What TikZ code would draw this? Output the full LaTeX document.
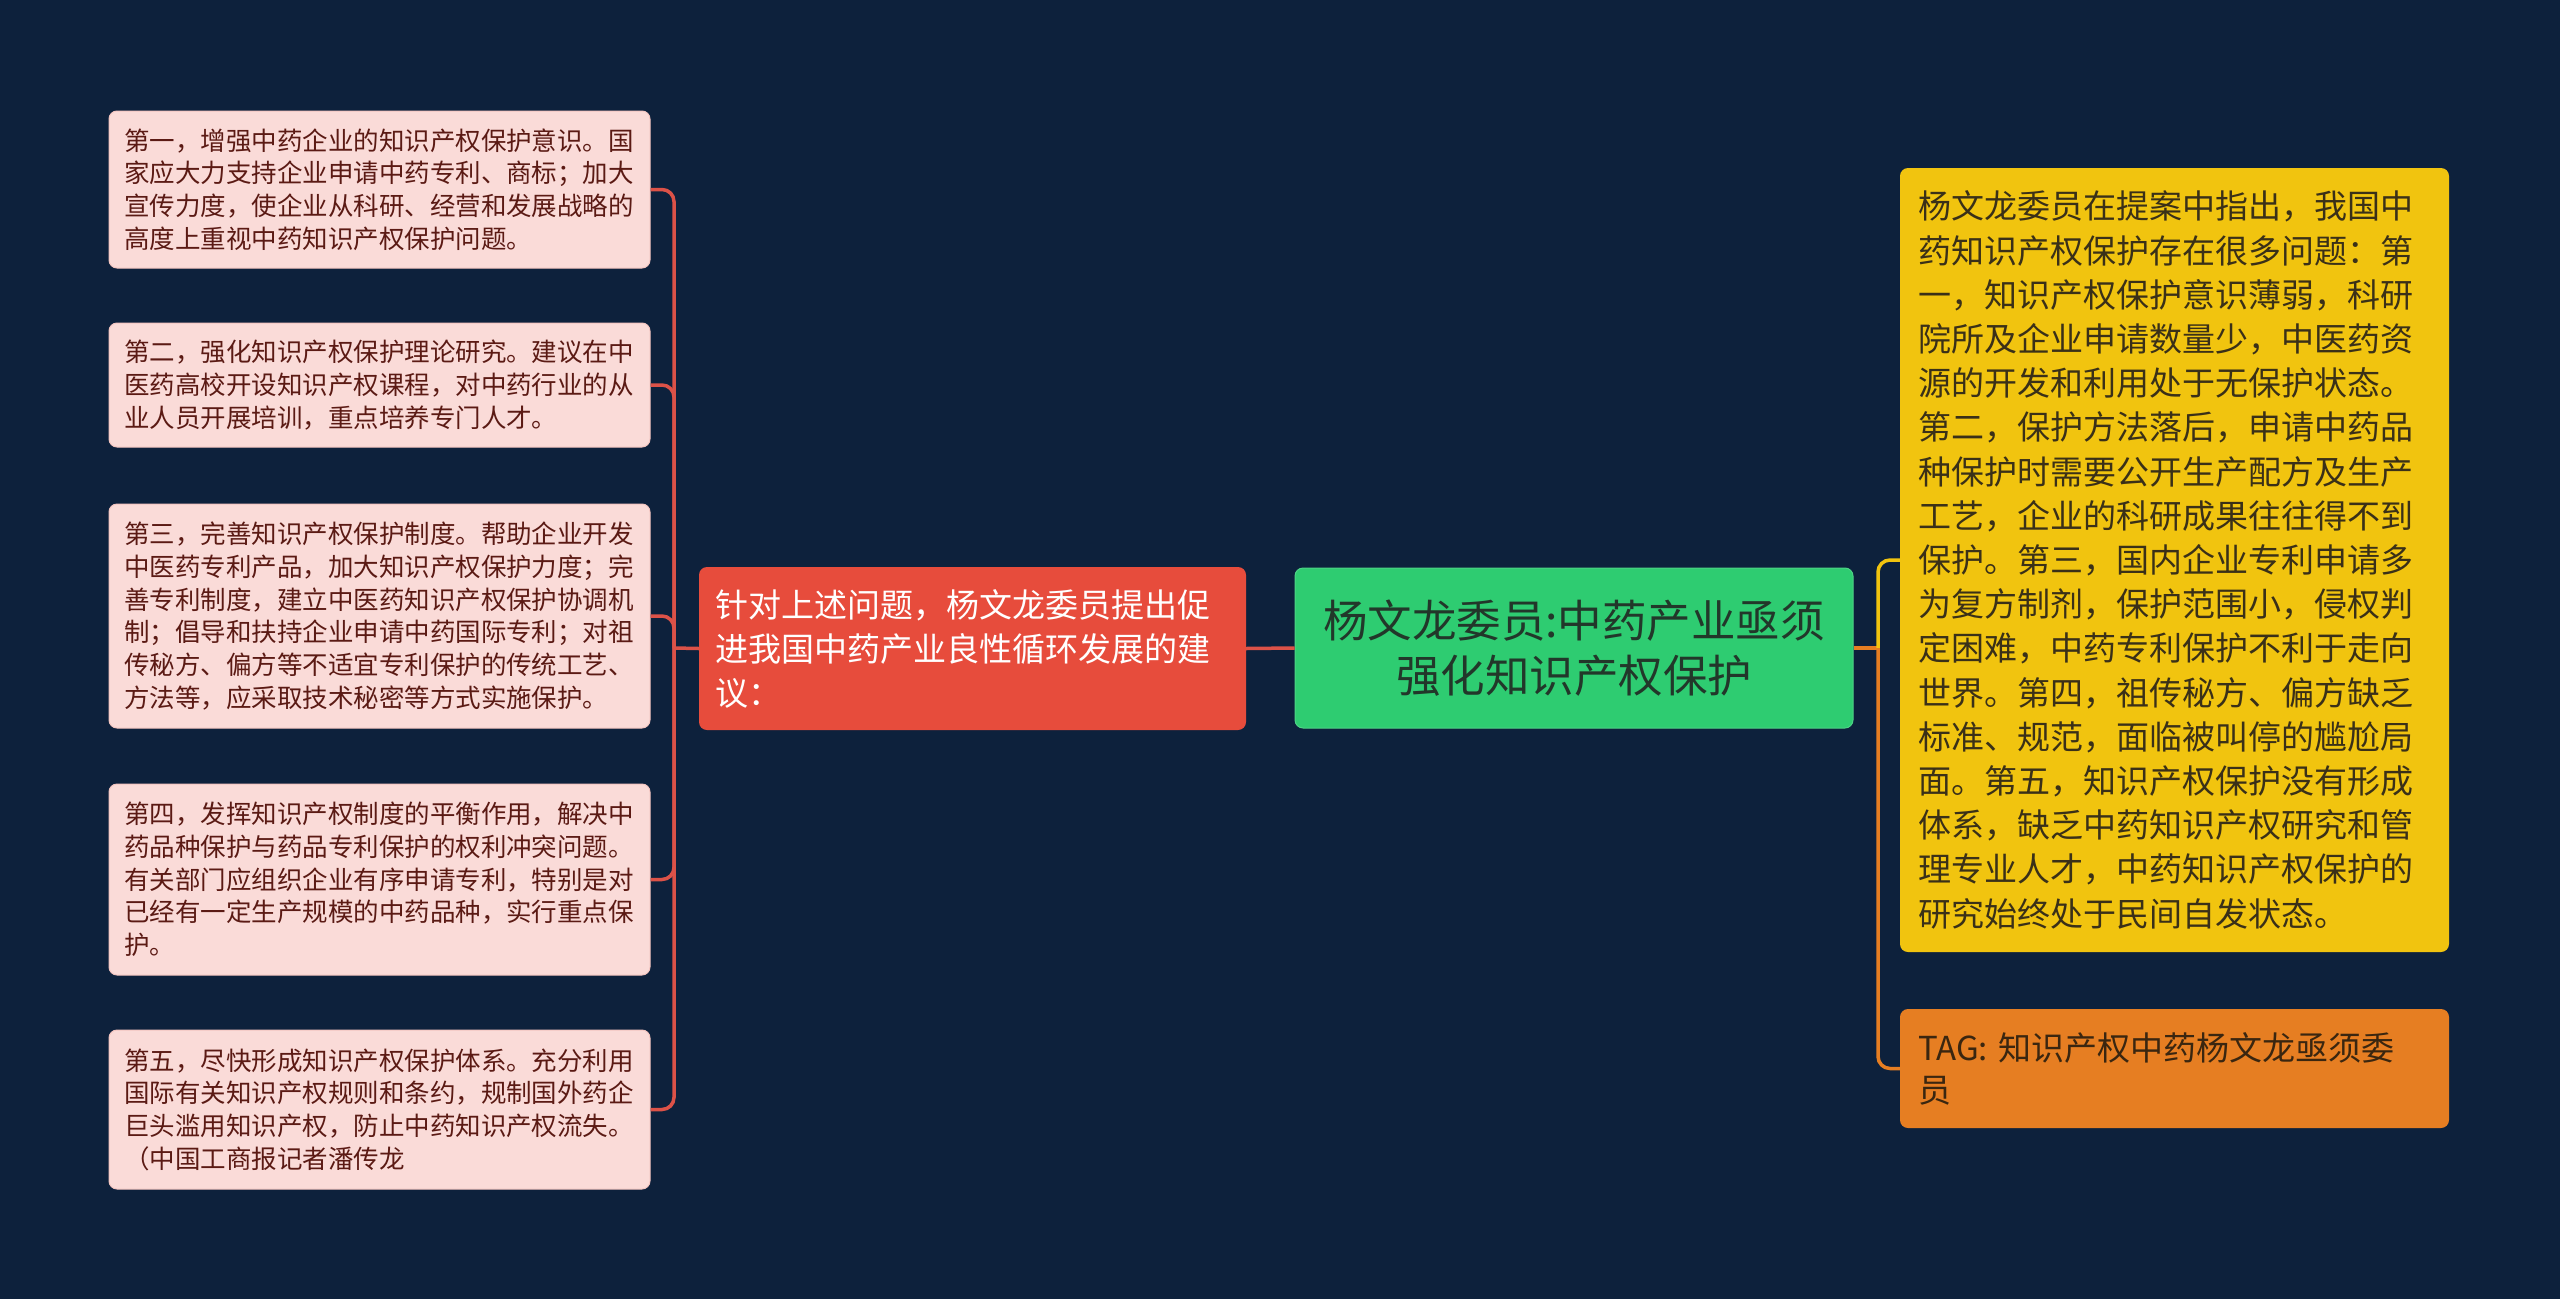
\documentclass[tikz,border=0pt]{standalone}
\usepackage{fontspec}
\setmainfont{Noto Sans CJK SC}
\definecolor{bg}{HTML}{0D213C}
\definecolor{leftfill}{HTML}{FADBD8}
\definecolor{leftborder}{HTML}{F3C5C0}
\definecolor{lefttext}{HTML}{5B1A14}
\definecolor{redn}{HTML}{E74C3C}
\definecolor{greenn}{HTML}{2ECC71}
\definecolor{greentext}{HTML}{22372A}
\definecolor{yellown}{HTML}{F1C40F}
\definecolor{yellowtext}{HTML}{3A3018}
\definecolor{orangen}{HTML}{E67E22}
\definecolor{orangetext}{HTML}{3A2610}
\definecolor{lline}{HTML}{DC5248}
\begin{document}
\begin{tikzpicture}[x=1pt,y=-1pt,
  leftbox/.style={rectangle, rounded corners=8pt, fill=leftfill, draw=leftborder, line width=1pt,
    text=lefttext, text width=511pt, align=left, inner xsep=15pt, inner ysep=0pt,
    minimum width=541pt, font=\fontsize{25.5}{32.7}\selectfont},
  rednode/.style={rectangle, rounded corners=8pt, fill=redn, text=white, text width=515pt,
    align=left, inner xsep=16pt, inner ysep=0pt, minimum width=547pt, minimum height=163pt,
    font=\fontsize{33}{44}\selectfont},
  greennode/.style={rectangle, rounded corners=8pt, fill=greenn, draw=greenn!85!white, line width=1pt,
    text=greentext, text width=526pt,
    align=center, inner xsep=16pt, inner ysep=0pt, minimum width=558pt, minimum height=160pt,
    font=\fontsize{44.5}{55}\selectfont},
  yellownode/.style={rectangle, rounded corners=8pt, fill=yellown, text=yellowtext, text width=513pt,
    align=left, inner xsep=18pt, inner ysep=0pt, minimum width=549pt, minimum height=784pt,
    font=\fontsize{33}{44.2}\selectfont},
  orangenode/.style={rectangle, rounded corners=8pt, fill=orangen, text=orangetext, text width=513pt,
    align=left, inner xsep=18pt, inner ysep=0pt, minimum width=549pt, minimum height=119pt,
    font=\fontsize{33}{42}\selectfont},
  lconn/.style={draw=lline, line width=3.5pt},
  yconn/.style={draw=yellown, line width=3.5pt},
  oconn/.style={draw=orangen, line width=3.5pt}
]
\fill[bg] (0,0) rectangle (2560,1299);
\useasboundingbox (0,0) rectangle (2560,1299);

\node[leftbox, minimum height=157pt] (b1) at (379.5,189.5) {第一，增强中药企业的知识产权保护意识。国\\家应大力支持企业申请中药专利、商标；加大\\宣传力度，使企业从科研、经营和发展战略的\\高度上重视中药知识产权保护问题。};
\node[leftbox, minimum height=124pt] (b2) at (379.5,385) {第二，强化知识产权保护理论研究。建议在中\\医药高校开设知识产权课程，对中药行业的从\\业人员开展培训，重点培养专门人才。};
\node[leftbox, minimum height=224pt] (b3) at (379.5,616) {第三，完善知识产权保护制度。帮助企业开发\\中医药专利产品，加大知识产权保护力度；完\\善专利制度，建立中医药知识产权保护协调机\\制；倡导和扶持企业申请中药国际专利；对祖\\传秘方、偏方等不适宜专利保护的传统工艺、\\方法等，应采取技术秘密等方式实施保护。};
\node[leftbox, minimum height=191pt] (b4) at (379.5,879.5) {第四，发挥知识产权制度的平衡作用，解决中\\药品种保护与药品专利保护的权利冲突问题。\\有关部门应组织企业有序申请专利，特别是对\\已经有一定生产规模的中药品种，实行重点保\\护。};
\node[leftbox, minimum height=159pt] (b5) at (379.5,1109.5) {第五，尽快形成知识产权保护体系。充分利用\\国际有关知识产权规则和条约，规制国外药企\\巨头滥用知识产权，防止中药知识产权流失。\\（中国工商报记者潘传龙};

\node[rednode] (red) at (972.5,648.5) {针对上述问题，杨文龙委员提出促\\进我国中药产业良性循环发展的建\\议：};
\node[greennode] (green) at (1574,648) {杨文龙委员:中药产业亟须\\强化知识产权保护};
\node[yellownode] (yellow) at (2174.5,560) {杨文龙委员在提案中指出，我国中\\药知识产权保护存在很多问题：第\\一，知识产权保护意识薄弱，科研\\院所及企业申请数量少，中医药资\\源的开发和利用处于无保护状态。\\第二，保护方法落后，申请中药品\\种保护时需要公开生产配方及生产\\工艺，企业的科研成果往往得不到\\保护。第三，国内企业专利申请多\\为复方制剂，保护范围小，侵权判\\定困难，中药专利保护不利于走向\\世界。第四，祖传秘方、偏方缺乏\\标准、规范，面临被叫停的尴尬局\\面。第五，知识产权保护没有形成\\体系，缺乏中药知识产权研究和管\\理专业人才，中药知识产权保护的\\研究始终处于民间自发状态。};
\node[orangenode] (orange) at (2174.5,1068.5) {TAG: 知识产权中药杨文龙亟须委\\员};

\coordinate (jl) at (674,648);
\coordinate (jr) at (1878,648);

\draw[lconn] (green.west) -- (red.east);
\draw[lconn] (red.west) -- (jl);
\foreach \b in {b1,b2,b3,b4,b5}
  \draw[lconn, rounded corners=12pt] (jl) |- (\b.east);

\draw[oconn] (green.east) -- (jr);
\draw[yconn, rounded corners=12pt] (jr) |- (yellow.west);
\draw[oconn, rounded corners=12pt] (jr) |- (orange.west);
\end{tikzpicture}
\end{document}
